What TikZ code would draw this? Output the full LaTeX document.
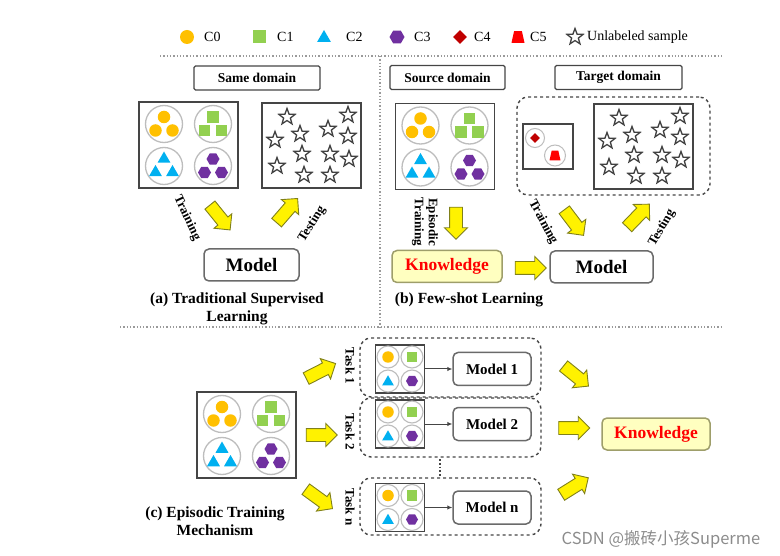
\documentclass[tikz,border=0pt]{standalone}
\usepackage{fontspec}
\setmainfont{Liberation Serif}
\newfontfamily\wmfont{Noto Sans CJK SC}
\usetikzlibrary{
    arrows.meta,
    positioning,
    shapes.geometric,
    shapes.arrows
}

\definecolor{cZero}{HTML}{FFC000}
\definecolor{cOne}{HTML}{92D050}
\definecolor{cTwo}{HTML}{00B0F0}
\definecolor{cThree}{HTML}{7030A0}
\definecolor{cFour}{HTML}{C00000}
\definecolor{cFive}{HTML}{FF0000}
\definecolor{boxgray}{HTML}{454545}
\definecolor{ringgray}{HTML}{BDBDBD}
\definecolor{starline}{HTML}{404040}
\definecolor{modelgray}{HTML}{6A6A6A}
\definecolor{sepgray}{HTML}{9A9A9A}
\definecolor{kfill}{HTML}{FFFFC0}
\definecolor{kline}{HTML}{9E9E6A}
\definecolor{arrowline}{HTML}{80801A}

% three class samples inside one ring
\newcommand{\trio}[2]{%
    \node[#2] (#1-1) at (0,-7) {};
    \node[#2] (#1-2) at (-8.5,6.5) {};
    \node[#2] (#1-3) at (8.5,6.5) {};
}

% C5 sample: name, x, y, half width
\newcommand{\trap}[4]{%
    \coordinate (#1) at (#2,#3);
    \fill[cFive] ([shift={(-#4,0.9*#4)}]#1) -- ([shift={(#4,0.9*#4)}]#1)
        -- ([shift={(0.6*#4,-0.9*#4)}]#1) -- ([shift={(-0.6*#4,-0.9*#4)}]#1) -- cycle;
}

% labelled set C0--C3, three samples per class
\newcommand{\bigset}[3]{%
    \node[setbox, minimum width=99pt, minimum height=86pt] (#1) at (#2,#3) {};
    \begin{scope}[shift={(#2,#3)}]
        \node[ring] (#1-r0) at (-24.5,-21) {};
        \node[ring] (#1-r1) at (24.5,-21) {};
        \node[ring] (#1-r2) at (-24.5,21) {};
        \node[ring] (#1-r3) at (24.5,21) {};
        \begin{scope}[shift={(-24.5,-21)}]\trio{#1-s0}{czero}\end{scope}
        \begin{scope}[shift={(24.5,-21)}]\trio{#1-s1}{cone}\end{scope}
        \begin{scope}[shift={(-24.5,21)}]\trio{#1-s2}{ctwo}\end{scope}
        \begin{scope}[shift={(24.5,21)}]\trio{#1-s3}{cthree}\end{scope}
    \end{scope}
}

% one sample per class
\newcommand{\smallset}[3]{%
    \node[setbox, minimum width=49pt, minimum height=48pt] (#1) at (#2,#3) {};
    \begin{scope}[shift={(#2,#3)}]
        \node[minring] (#1-r0) at (-12,-12) {};
        \node[minring] (#1-r1) at (12,-12) {};
        \node[minring] (#1-r2) at (-12,12) {};
        \node[minring] (#1-r3) at (12,12) {};
        \node[czero, minimum size=11.5pt] (#1-s0) at (-12,-12) {};
        \node[cone, minimum size=10.5pt] (#1-s1) at (12,-12) {};
        \node[ctwo, minimum size=13.5pt] (#1-s2) at (-12,13) {};
        \node[cthree, minimum size=12pt] (#1-s3) at (12,12) {};
    \end{scope}
}

% unlabeled samples
\newcommand{\starfield}[3]{%
    \node[setbox, minimum width=99pt, minimum height=85pt] (#1) at (#2,#3) {};
    \begin{scope}[shift={(#2,#3)}]
        \node[unl] (#1-1) at (-24.5,-28.5) {};
        \node[unl] (#1-2) at (36.5,-30.5) {};
        \node[unl] (#1-3) at (-11.5,-11.5) {};
        \node[unl] (#1-4) at (16.5,-16.5) {};
        \node[unl] (#1-5) at (36.5,-9.5) {};
        \node[unl] (#1-6) at (-36.5,-5.5) {};
        \node[unl] (#1-7) at (-9.5,8.5) {};
        \node[unl] (#1-8) at (18.5,8.5) {};
        \node[unl] (#1-9) at (37.5,13.5) {};
        \node[unl] (#1-10) at (-34.5,20.5) {};
        \node[unl] (#1-11) at (-7.5,29.5) {};
        \node[unl] (#1-12) at (18.5,29.5) {};
    \end{scope}
}

\begin{document}
\begin{tikzpicture}[
    x=1pt,
    y=-1pt,
    >={Latex[length=5pt,width=4.5pt]},
    setbox/.style={
        draw=boxgray,
        line width=1.6pt,
        fill=white,
        inner sep=0pt
    },
    ring/.style={
        circle,
        draw=ringgray,
        line width=1.3pt,
        fill=white,
        inner sep=0pt,
        minimum size=37pt
    },
    minring/.style={
        ring,
        line width=1.1pt,
        minimum size=22pt
    },
    czero/.style={circle, fill=cZero, inner sep=0pt, minimum size=12.5pt},
    cone/.style={rectangle, fill=cOne, inner sep=0pt, minimum size=11.5pt},
    ctwo/.style={regular polygon, regular polygon sides=3, fill=cTwo, inner sep=0pt, minimum size=15pt},
    cthree/.style={regular polygon, regular polygon sides=6, fill=cThree, inner sep=0pt, minimum size=13pt},
    cfour/.style={diamond, fill=cFour, inner sep=0pt, minimum size=11pt},
    unl/.style={
        star,
        star points=5,
        star point ratio=2.4,
        draw=starline,
        line width=1.3pt,
        fill=white,
        inner sep=0pt,
        minimum size=17pt
    },
    domainbox/.style={
        draw=boxgray,
        line width=1.3pt,
        rounded corners=1.5pt,
        minimum height=24pt,
        font=\bfseries\fontsize{13.5}{15}\selectfont
    },
    model/.style={
        draw=modelgray,
        line width=1.5pt,
        rounded corners=5pt,
        fill=white,
        minimum height=32pt,
        font=\bfseries\fontsize{19}{21}\selectfont
    },
    smallmodel/.style={
        model,
        minimum width=78pt,
        minimum height=33pt,
        font=\bfseries\fontsize{15}{17}\selectfont
    },
    know/.style={
        model,
        draw=kline,
        fill=kfill,
        text=cFive,
        font=\bfseries\fontsize{17.5}{19}\selectfont
    },
    yarrow/.style={
        single arrow,
        draw=arrowline,
        fill=yellow,
        line width=0.9pt,
        inner xsep=0pt,
        inner ysep=6pt,
        single arrow head extend=5pt,
        minimum height=32pt
    },
    sepline/.style={draw=sepgray, dotted, line width=1.3pt},
    groupbox/.style={
        draw=boxgray,
        dashed,
        line width=1.4pt,
        rounded corners=11pt
    },
    rotlabel/.style={font=\bfseries\fontsize{13}{14}\selectfont, inner sep=0pt},
    caption/.style={font=\bfseries\fontsize{15.5}{18.5}\selectfont, align=center},
    legendtext/.style={font=\fontsize{14}{16}\selectfont, anchor=west, inner sep=0pt}
]
\useasboundingbox (0,0) rectangle (780,556);

%--------------------------------------------------
% legend
\node[czero, minimum size=14pt] (lg0) at (187,37) {};
\node[legendtext] (lg0t) at (204,37) {C0};
\node[cone, minimum size=13pt] (lg1) at (259,37) {};
\node[legendtext] (lg1t) at (277,37) {C1};
\node[ctwo, minimum size=16pt] (lg2) at (324,38) {};
\node[legendtext] (lg2t) at (346,37) {C2};
\node[cthree, minimum size=15pt] (lg3) at (397,37) {};
\node[legendtext] (lg3t) at (414,37) {C3};
\node[cfour, minimum size=14pt] (lg4) at (460,37) {};
\node[legendtext] (lg4t) at (474,37) {C4};
\trap{lg5}{518}{37}{6.5}
\node[legendtext] (lg5t) at (530,37) {C5};
\node[unl, minimum size=17pt] (lgu) at (575,37) {};
\node[legendtext] (lgut) at (587,37) {Unlabeled sample};

% separators
\coordinate (topL) at (160,56);
\coordinate (topR) at (722,56);
\coordinate (midT) at (380,56);
\coordinate (midB) at (380,327);
\coordinate (botL) at (120,327);
\coordinate (botR) at (722,327);
\draw[sepline] (topL) -- (topR);
\draw[sepline] (midT) -- (midB);
\draw[sepline] (botL) -- (botR);

%--------------------------------------------------
% (a) traditional supervised learning
\node[domainbox, minimum width=126pt] (same) at (257,78) {Same domain};
\bigset{trainA}{188.5}{145}
\starfield{testA}{311.5}{145.5}
\node[model, minimum width=95pt] (modelA) at (251.5,265) {Model};

\node[yarrow, rotate=-51] (trainArrA) at (218,215) {};
\node[yarrow, rotate=49] (testArrA) at (285,213) {};
\node[rotlabel, rotate=-65] (trainLblA) at (187,218) {Training};
\node[rotlabel, rotate=58] (testLblA) at (312,224) {Testing};

\node[caption] (capA) at (237,309) {(a) Traditional Supervised\\Learning};

%--------------------------------------------------
% (b) few-shot learning
\node[domainbox, minimum width=115pt] (source) at (447.5,77.5) {Source domain};
\node[domainbox, minimum width=127pt] (target) at (618.5,77.5) {Target domain};

\bigset{srcB}{445}{146.5}

\node[groupbox, minimum width=193pt, minimum height=98pt] (tgtgroup) at (613.5,146) {};
\node[setbox, minimum width=50pt, minimum height=45pt] (support) at (548,146.5) {};
\node[ring, minimum size=19pt, line width=1pt] (supR4) at (535,138) {};
\node[cfour, minimum size=10pt] (supS4) at (535,138) {};
\node[ring, minimum size=21pt, line width=1pt] (supR5) at (555,155.5) {};
\trap{supS5}{555}{155.5}{5.5}
\starfield{testB}{643.5}{146.5}

\node[know, minimum width=110pt] (knowB) at (447,266.5) {Knowledge};
\node[model, minimum width=103pt] (modelB) at (601.5,267) {Model};

\node[yarrow, rotate=-90] (epiArr) at (456,220) {};
\node[rotlabel, rotate=-90, align=center] (epiLbl) at (425,222) {Episodic\\Training};
\node[yarrow, minimum height=31pt] (knowArr) at (527.5,268) {};
\node[yarrow, rotate=-53] (trainArrB) at (572,220) {};
\node[yarrow, rotate=46] (testArrB) at (636,218) {};
\node[rotlabel, rotate=-62] (trainLblB) at (543,222) {Training};
\node[rotlabel, rotate=60] (testLblB) at (662,228) {Testing};

\node[caption] (capB) at (469,300) {(b) Few-shot Learning};

%--------------------------------------------------
% (c) episodic training mechanism
\bigset{poolC}{246.5}{435}
\node[caption] (capC) at (215,521) {(c) Episodic Training\\Mechanism};

\node[yarrow, rotate=27, minimum height=33pt] (taskArr1) at (318,372.5) {};
\node[yarrow, minimum height=31pt] (taskArr2) at (318.5,435) {};
\node[yarrow, rotate=-36, minimum height=33pt] (taskArrN) at (316.5,497) {};

\node[rotlabel, rotate=-90] (task1Lbl) at (350,366) {Task 1};
\node[rotlabel, rotate=-90] (task2Lbl) at (350,432) {Task 2};
\node[rotlabel, rotate=-90] (taskNLbl) at (350,507) {Task n};

\node[groupbox, minimum width=181pt, minimum height=59pt] (task1) at (450.5,367.5) {};
\node[groupbox, minimum width=181pt, minimum height=59pt] (task2) at (450.5,427.5) {};
\node[groupbox, minimum width=181pt, minimum height=57pt] (taskN) at (450.5,506.5) {};

\smallset{set1}{400}{369}
\smallset{set2}{400}{424}
\smallset{setN}{400}{507.5}

\node[smallmodel, right=27pt of set1] (model1) {Model 1};
\node[smallmodel, right=27pt of set2] (model2) {Model 2};
\node[smallmodel, right=27pt of setN] (modelN) {Model n};

\draw[->, draw=boxgray, line width=1pt] (set1) -- (model1);
\draw[->, draw=boxgray, line width=1pt] (set2) -- (model2);
\draw[->, draw=boxgray, line width=1pt] (setN) -- (modelN);

\coordinate (dotsTop) at (440,459);
\coordinate (dotsBot) at (440,477);
\draw[draw=boxgray, dotted, line width=1.8pt] (dotsTop) -- (dotsBot);

\node[know, minimum width=108pt] (knowC) at (656,434) {Knowledge};

\node[yarrow, rotate=-39] (knowArr1) at (573.5,374) {};
\node[yarrow, minimum height=31pt] (knowArr2) at (571,428) {};
\node[yarrow, rotate=32] (knowArrN) at (572,488) {};

% watermark
\node[font=\wmfont\fontsize{16.5}{18}\selectfont, text=black!45] (mark) at (661,539) {CSDN @搬砖小孩Superme};

\end{tikzpicture}
\end{document}
